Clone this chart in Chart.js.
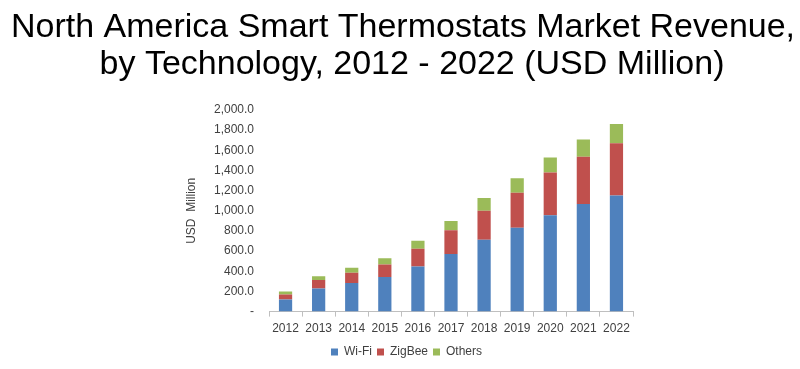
<!DOCTYPE html>
<html>
<head>
<meta charset="utf-8">
<script src="https://cdn.jsdelivr.net/npm/chart.js@4"></script>
<style>
  html, body { margin: 0; padding: 0; background: #ffffff; }
  #wrap { width: 800px; height: 369px; position: relative; }
</style>
</head>
<body>
<div id="wrap"><canvas id="barChart"></canvas></div>
<script>
// 데이터
var years = ['2012', '2013', '2014', '2015', '2016', '2017', '2018', '2019', '2020', '2021', '2022'];
var wifi = [121, 229, 284, 343, 448, 571, 712, 833, 957, 1068, 1153];
var zigbee = [49, 85, 102, 124, 176, 236, 288, 346, 422, 468, 516];
var others = [30, 36, 49, 62, 79, 92, 127, 144, 150, 172, 193];
var yTicks = [0, 200, 400, 600, 800, 1000, 1200, 1400, 1600, 1800, 2000];
var titleLines = ['North America Smart Thermostats Market Revenue,', 'by Technology, 2012 - 2022 (USD Million)'];

var textColor = '#404040';
var baseFont = "'Liberation Sans', Arial, sans-serif";

function makeSet(label, data, color) {
    return {
        label: label,
        data: data,
        backgroundColor: color,
        borderWidth: 0,
        barPercentage: 0.4,
        categoryPercentage: 1.0
    };
}

// 제목은 캔버스 전체 폭에 직접 그린다 (내장 title은 padding 폭으로 눌려서)
var bigTitle = {
    id: 'bigTitle',
    afterDraw: function (chart) {
        var ctx = chart.ctx;
        ctx.save();
        ctx.fillStyle = '#000000';
        ctx.font = "34px " + baseFont;
        ctx.textAlign = 'center';
        ctx.textBaseline = 'alphabetic';
        ctx.fillText(titleLines[0], 403, 37);
        ctx.fillText(titleLines[1], 412, 74);
        ctx.restore();
    }
};

var chartArea = document.getElementById('barChart').getContext('2d');
var myChart = new Chart(chartArea, {
    type: 'bar',
    data: {
        labels: years,
        datasets: [
            makeSet('Wi-Fi', wifi, '#4F81BD'),
            makeSet('ZigBee', zigbee, '#C0504D'),
            makeSet('Others', others, '#9BBB59')
        ]
    },
    options: {
        responsive: true,
        maintainAspectRatio: false,
        animation: false,
        layout: {
            padding: { left: 180, right: 167, top: 110, bottom: 1 }
        },
        scales: {
            x: {
                stacked: true,
                grid: {
                    display: true,
                    offset: true,
                    drawOnChartArea: false,
                    drawTicks: true,
                    tickLength: 5,
                    color: '#BFBFBF'
                },
                border: { display: true, color: '#BFBFBF' },
                ticks: {
                    color: textColor,
                    font: { family: baseFont, size: 12 },
                    padding: 5,
                    maxRotation: 0
                }
            },
            y: {
                stacked: true,
                min: 0,
                max: 2000,
                afterBuildTicks: function (scale) {
                    scale.ticks = yTicks.map(function (v) { return { value: v }; });
                },
                afterFit: function (scale) {
                    scale.width = 89;
                },
                grid: { display: false },
                border: { display: false },
                ticks: {
                    color: textColor,
                    font: { family: baseFont, size: 12 },
                    padding: 7,
                    callback: function (value) {
                        if (value === 0) return '-';
                        return value.toLocaleString('en-US', { minimumFractionDigits: 1, maximumFractionDigits: 1 });
                    }
                },
                title: {
                    display: true,
                    text: 'USD  Million',
                    color: textColor,
                    font: { family: baseFont, size: 12 },
                    padding: { top: 4, bottom: 0 }
                }
            }
        },
        plugins: {
            title: { display: false },
            legend: {
                position: 'bottom',
                labels: {
                    boxWidth: 7,
                    boxHeight: 7,
                    padding: 5,
                    color: textColor,
                    font: { family: baseFont, size: 12 }
                }
            },
            tooltip: { enabled: false }
        }
    },
    plugins: [bigTitle]
});
</script>
</body>
</html>
